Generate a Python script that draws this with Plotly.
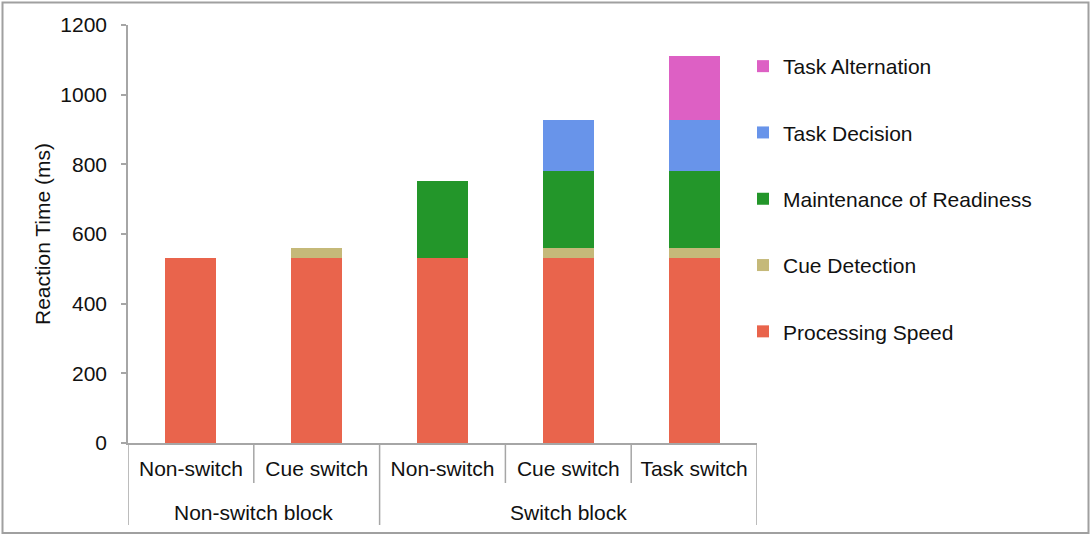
import plotly.graph_objects as go

# Block / condition categories (two-level x axis)
blocks = ["Non-switch block", "Non-switch block", "Switch block", "Switch block", "Switch block"]
conditions = ["Non-switch", "Cue switch", "Non-switch", "Cue switch", "Task switch"]

# Reaction-time components (ms), stacked bottom to top
processing_speed = [532, 532, 532, 532, 532]
cue_detection = [None, 27, None, 27, 27]
maintenance_readiness = [None, None, 221, 221, 221]
task_decision = [None, None, None, 148, 148]
task_alternation = [None, None, None, None, 184]

series = [
    ("Processing Speed", processing_speed, "#E9644C"),
    ("Cue Detection", cue_detection, "#C5B979"),
    ("Maintenance of Readiness", maintenance_readiness, "#23962A"),
    ("Task Decision", task_decision, "#6894EA"),
    ("Task Alternation", task_alternation, "#DD60C4"),
]

FONT = "Liberation Sans, Arial, sans-serif"
TEXT = "#111111"
AXIS_GREY = "#A6A6A6"

# one slot per condition along the x axis
slots = list(range(len(conditions)))

fig = go.Figure()
for rank, (name, values, color) in enumerate(series):
    fig.add_trace(go.Bar(
        x=slots,
        y=values,
        name=name,
        legendgroup=name,
        legendrank=len(series) - rank,
        marker=dict(color=color, line=dict(width=0)),
    ))

# Plot area in pixels: x 128..757, y 25..443
W, H = 1090, 535
L, R, T, B = 128, 333, 25, 92
pw, ph = W - L - R, H - T - B


def px_x(p):
    return (p - L) / pw


def px_y(p):
    return (H - B - p) / ph


# group labels centred under their conditions, dividers between slots
annotations = []
shapes = []
group_names = list(dict.fromkeys(blocks))
for g in group_names:
    members = [i for i, b in enumerate(blocks) if b == g]
    annotations.append(dict(
        x=sum(members) / len(members), xref="x",
        y=px_y(512), yref="paper",
        text=g, showarrow=False, xanchor="center", yanchor="middle",
        font=dict(family=FONT, size=21, color=TEXT),
    ))

for i in range(len(slots) + 1):
    edge = i - 0.5
    is_group_edge = i == 0 or i == len(slots) or blocks[i] != blocks[i - 1]
    shapes.append(dict(
        type="line", xref="x", yref="paper",
        x0=edge, x1=edge, y0=0, y1=px_y(525 if is_group_edge else 483),
        line=dict(color=AXIS_GREY, width=1.5),
    ))

# outer frame round the whole chart
shapes.append(dict(
    type="rect", xref="paper", yref="paper",
    x0=px_x(2.5), x1=px_x(1088.5), y0=px_y(533), y1=px_y(2.5),
    line=dict(color="#A0A0A0", width=2), fillcolor="rgba(0,0,0,0)", layer="below",
))

fig.update_layout(
    width=W,
    height=H,
    margin=dict(l=L, r=R, t=T, b=B, autoexpand=False),
    barmode="stack",
    bargap=0.595,
    plot_bgcolor="white",
    paper_bgcolor="white",
    font=dict(family=FONT, size=21, color=TEXT),
    showlegend=True,
    legend=dict(
        x=px_x(743),
        y=px_y(46),
        xanchor="left",
        yanchor="top",
        traceorder="grouped",
        tracegroupgap=36,
        font=dict(family=FONT, size=21, color=TEXT),
        bgcolor="rgba(0,0,0,0)",
    ),
    xaxis=dict(
        range=[-0.5, len(slots) - 0.5],
        tickvals=slots,
        ticktext=conditions,
        showline=True,
        linecolor=AXIS_GREY,
        linewidth=1.5,
        ticks="",
        ticklabelstandoff=6,
        showgrid=False,
        zeroline=False,
        tickfont=dict(family=FONT, size=21, color=TEXT),
    ),
    yaxis=dict(
        range=[0, 1200],
        dtick=200,
        showline=True,
        linecolor=AXIS_GREY,
        linewidth=1.5,
        ticks="outside",
        ticklen=5,
        tickcolor=AXIS_GREY,
        tickwidth=1.5,
        ticklabelstandoff=10,
        showgrid=False,
        zeroline=False,
        tickfont=dict(family=FONT, size=21, color=TEXT),
        title=dict(text="Reaction Time (ms)", standoff=4,
                   font=dict(family=FONT, size=21, color=TEXT)),
    ),
    annotations=annotations,
    shapes=shapes,
)

fig.write_html("out.html")
